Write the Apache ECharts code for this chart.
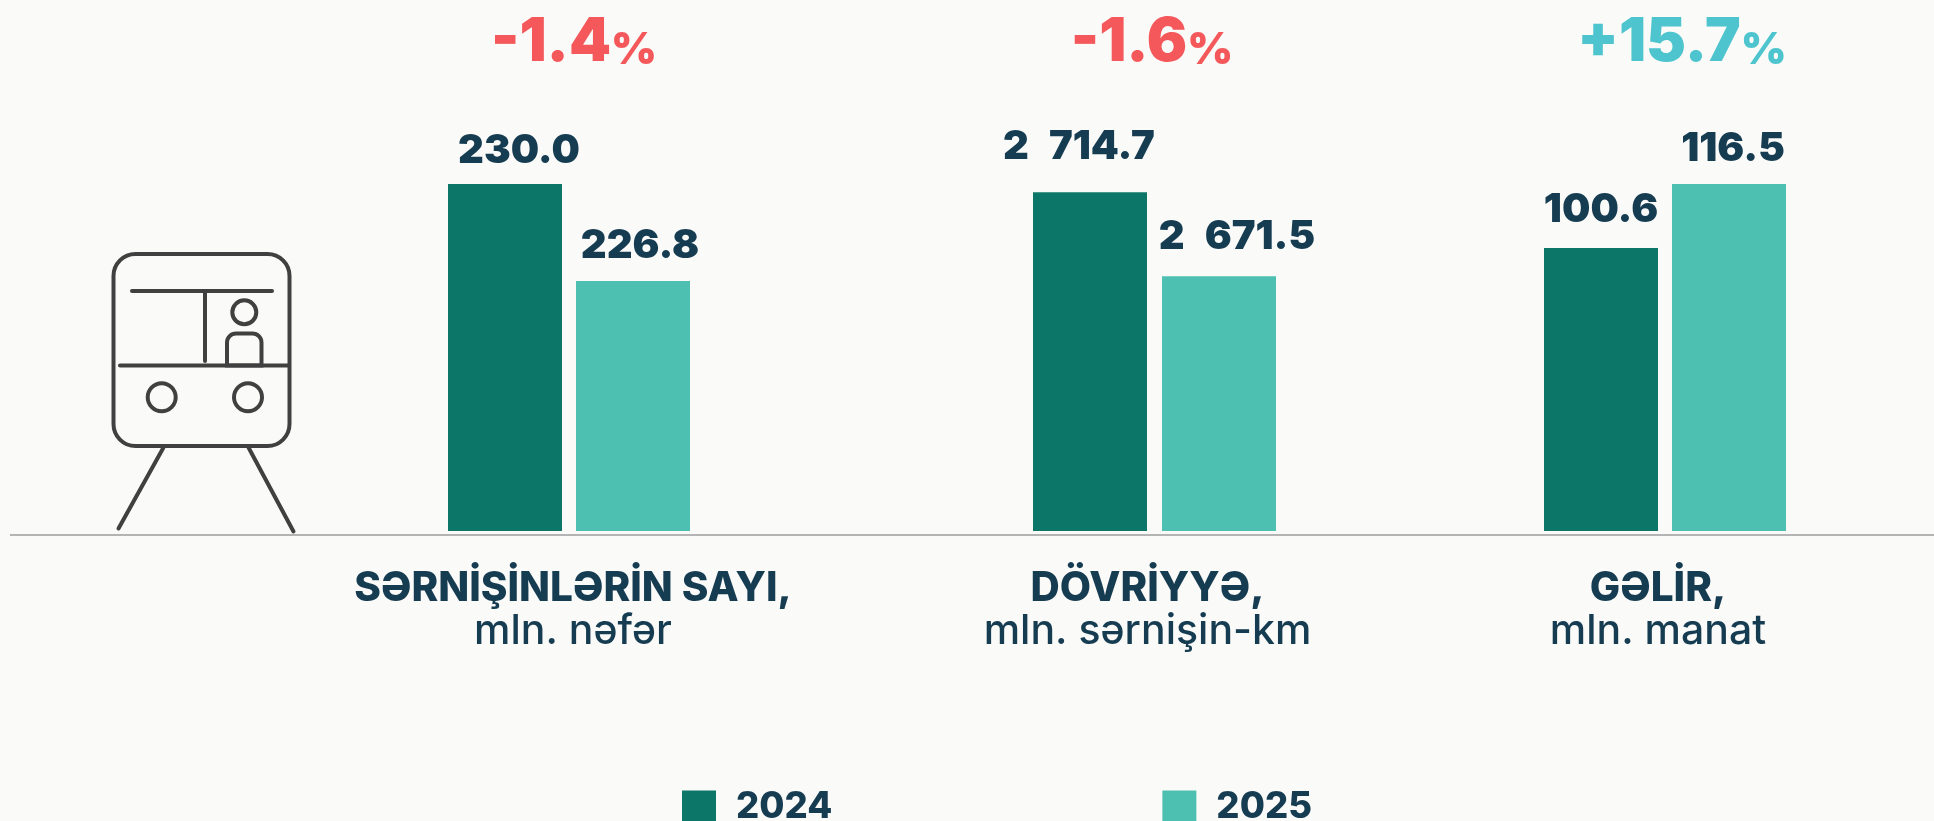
<!DOCTYPE html>
<html><head><meta charset="utf-8">
<style>html,body{margin:0;padding:0;background:#fafaf8;overflow:hidden}#c{width:1934px;height:821px}</style>
<script src="https://cdn.jsdelivr.net/npm/echarts@6/dist/echarts.min.js"></script>
</head><body><div id="c"></div>
<script>
const years = ['2024', '2025'];
const categories = ['SƏRNİŞİNLƏRİN SAYI,', 'DÖVRİYYƏ,', 'GƏLİR,'];
const units = ['mln. nəfər', 'mln. sərnişin-km', 'mln. manat'];
const values2024 = [230.0, 2714.7, 100.6];
const values2025 = [226.8, 2671.5, 116.5];
const changes = ['-1.4', '-1.6', '+15.7'];
const axisMin = [218.55, 2540.4, 30.3];
const axisMax = [232.77, 2762.1, 137.4];

const FONT = 'Inter';
const INK = '#163c52', C24 = '#0c7769', C25 = '#4ec0b1', RED = '#f4585b', TEAL = '#4ec5ce', ICON = '#404040';
const gridLeft = [441, 1026.5, 1537], gridW = 256, barGaps = [14, 15, 14];
const labelOffsets = [[[14, 7], [7, 5]], [[-11, -5], [18, 1]], [[0, 2], [4, 5]]];
const labelPad = [[0,0,0,8],[0,14,0,0],[0,14,0,0]];
const fmt = v => { const [a, b] = v.toFixed(1).split('.'); return a.replace(/\B(?=(\d{3})+$)/g, '\u2002') + '.' + b; };

const grid = [], xAxis = [], yAxis = [], series = [];
categories.forEach((c, i) => {
  grid.push({ left: gridLeft[i], width: gridW, top: 100, height: 431 });
  xAxis.push({ type: 'category', gridIndex: i, data: [c],
    axisLine: { show: false }, axisTick: { show: false },
    axisLabel: { margin: 37, interval: 0, padding: labelPad[i],
      formatter: v => `{b|${v}}\n{s|${units[i]}}`,
      rich: {
        b: { fontFamily: FONT, fontWeight: 800, fontSize: 40.5, color: INK, lineHeight: 42, align: 'center' },
        s: { fontFamily: FONT, fontWeight: 500, fontSize: 41, color: INK, lineHeight: 43, align: 'center' }
      } } });
  yAxis.push({ type: 'value', gridIndex: i, min: axisMin[i], max: axisMax[i], show: false, splitLine: { show: false } });
  [[values2024, C24], [values2025, C25]].forEach((d, k) => {
    series.push({ name: years[k], type: 'bar', xAxisIndex: i, yAxisIndex: i,
      barWidth: 114, barGap: (barGaps[i] / 114 * 100) + '%', animation: false,
      itemStyle: { color: d[1] },
      data: [d[0][i]],
      label: { show: true, position: 'top', distance: 20, offset: labelOffsets[i][k],
        formatter: p => fmt(p.value),
        fontFamily: FONT, fontWeight: 900, fontSize: 40, color: INK } });
  });
});

const line = (x1, y1, x2, y2, color, w, cap) => ({ type: 'line', silent: true,
  shape: { x1, y1, x2, y2 }, style: { stroke: color || ICON, lineWidth: w || 4, lineCap: cap || 'round' } });
const circle = (cx, cy, r) => ({ type: 'circle', silent: true, shape: { cx, cy, r }, style: { fill: 'none', stroke: ICON, lineWidth: 4 } });
const graphic = [
  line(10, 535, 1934, 535, '#b4b4b4', 2, 'butt'),
  { type: 'rect', silent: true, shape: { x: 113.5, y: 254, width: 176, height: 192, r: 22 }, style: { fill: 'none', stroke: ICON, lineWidth: 4 } },
  line(132, 291, 272, 291), line(205, 291, 205, 361), line(120, 365.5, 288, 365.5),
  circle(244.3, 312.3, 12), circle(161.7, 397.3, 14), circle(248, 397.3, 14),
  { type: 'rect', silent: true, shape: { x: 227, y: 333.5, width: 34.5, height: 32, r: [9, 9, 0, 0] }, style: { fill: 'none', stroke: ICON, lineWidth: 4 } },
  line(163.5, 447.5, 118.5, 528.5), line(248.5, 447.5, 293.5, 531.5)
];
const changeX = [574, 1152, 1682];
changes.forEach((c, i) => {
  const col = c[0] === '-' ? RED : TEAL;
  graphic.push({ type: 'text', silent: true, x: changeX[i], y: 3, style: {
    text: `{n|${c}}{p|%}`, textAlign: 'center', textVerticalAlign: 'top',
    rich: {
      n: { fontFamily: FONT, fontWeight: 900, fontSize: 60, fill: col, lineHeight: 70, verticalAlign: 'bottom' },
      p: { fontFamily: FONT, fontWeight: 900, fontSize: 44, fill: col, lineHeight: 60, verticalAlign: 'bottom' }
    } } });
});

const chart = echarts.init(document.getElementById('c'), null, { renderer: 'canvas' });
chart.setOption({
  backgroundColor: '#fafaf8', animation: false, tooltip: { show: false },
  legend: { data: years, left: 682, top: 789, icon: 'rect', itemWidth: 34, itemHeight: 34, itemGap: 330, padding: 0, selectedMode: false,
    textStyle: { fontFamily: FONT, fontWeight: 800, fontSize: 36.5, color: INK, padding: [0, 0, 0, 15] } },
  grid, xAxis, yAxis, series, graphic
});
</script></body></html>
